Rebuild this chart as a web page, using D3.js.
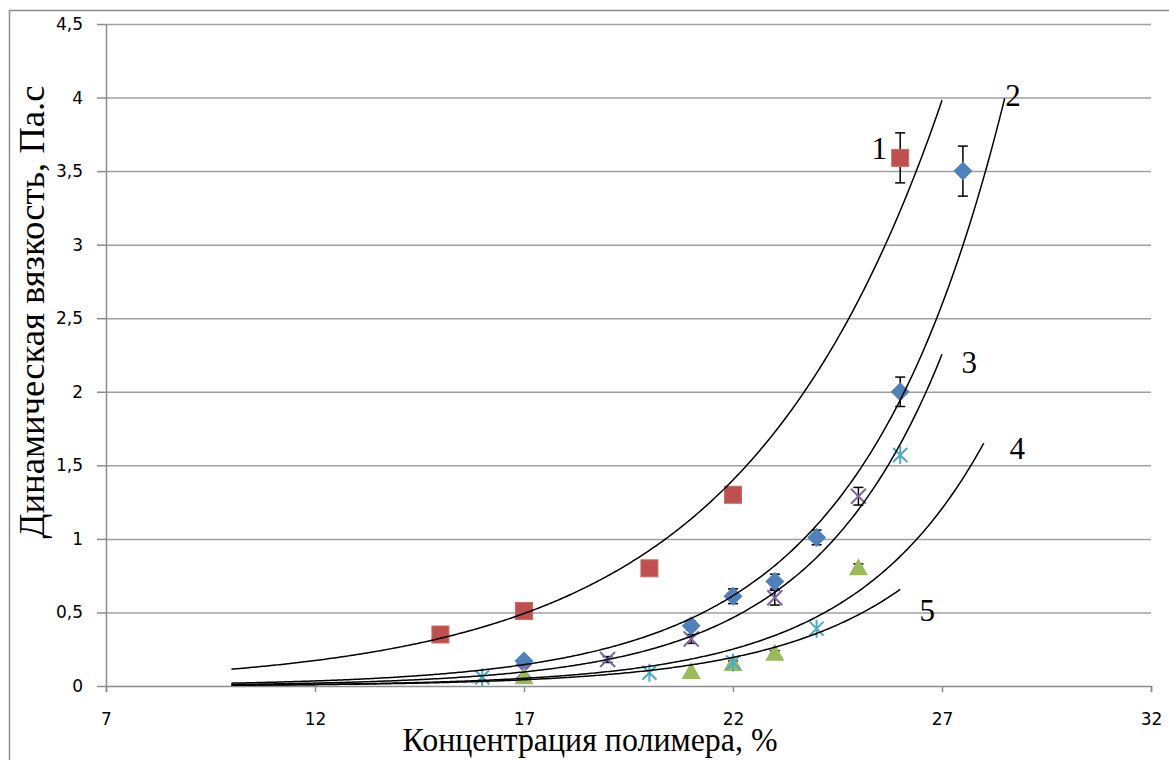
<!DOCTYPE html>
<head>
<meta charset="utf-8">
<script src="https://d3js.org/d3.v7.min.js"></script>
<style>
body{ margin:0; background:#fff; }
.tick text{ font-family: "DejaVu Sans", sans-serif; font-size:17px; fill:#000; }
.tick line{ stroke:#8c8c8c; stroke-width:1.5; }
path.domain{ stroke:#8c8c8c; stroke-width:1.5; }
.grid line{ stroke:#a0a0a0; stroke-width:1.5; }
.grid path{ display:none; }
text.axisTitle{ font-family:"Liberation Serif", "Times New Roman", serif; font-size:35px; }
text.xTitle{ font-size:34px; }
text.curveLabel{ font-family:"Liberation Serif", "Times New Roman", serif; font-size:31px; }
</style>
<title>Динамическая вязкость</title>
</head>
<body>
<script>
const width = 1169, height = 760;
const margin = {top:24, right:18, bottom:74, left:106};

// тики осей
const xTicks = [7, 12, 17, 22, 27, 32];
const yTicks = [0, 0.5, 1, 1.5, 2, 2.5, 3, 3.5, 4, 4.5];

// серия 1 (красные квадраты)
const x1 = [15, 17, 20, 22, 26];
const y1 = [0.35, 0.51, 0.80, 1.30, 3.59];
const e1 = [0, 0, 0, 0.05, 0.17];
// серия 2 (синие ромбы)
const x2 = [17, 21, 22, 23, 24, 26, 27.5];
const y2 = [0.17, 0.41, 0.61, 0.71, 1.01, 2.00, 3.50];
const e2 = [0, 0.03, 0.05, 0.05, 0.05, 0.10, 0.17];
// серия 3 (фиолетовые крестики)
const x3 = [17, 19, 21, 23, 25];
const y3 = [0.10, 0.18, 0.32, 0.60, 1.29];
const e3 = [0, 0.02, 0.03, 0.05, 0.06];
// серия 4 (зелёные треугольники)
const x4 = [17, 21, 22, 23, 25];
const y4 = [0.06, 0.095, 0.15, 0.22, 0.80];
const e4 = [0, 0, 0.02, 0.02, 0.03];
// серия 5 (голубые звёздочки)
const x5 = [16, 20, 22, 24, 26];
const y5 = [0.06, 0.09, 0.16, 0.39, 1.57];
const e5 = [0, 0, 0, 0, 0];

// диапазон экспоненциальных линий тренда
const trendFrom = [10, 10, 10, 10, 10];
const trendTo   = [27, 28.5, 27, 26, 28];

// подписи кривых
const curveNames = ['1', '2', '3', '4', '5'];
const curveLabX  = [25.5, 28.7, 27.65, 28.8, 26.65];
const curveLabY  = [3.58, 3.94, 2.13, 1.54, 0.44];

const series = [
   {x:x1, y:y1, e:e1, marker:'square',   colour:'#C0504D'},
   {x:x2, y:y2, e:e2, marker:'diamond',  colour:'#4F81BD'},
   {x:x3, y:y3, e:e3, marker:'cross',    colour:'#8064A2'},
   {x:x4, y:y4, e:e4, marker:'triangle', colour:'#9BBB59'},
   {x:x5, y:y5, e:e5, marker:'star',     colour:'#4BACC6'}
];

const svg = d3.select('body').append('svg')
   .attr('width', width)
   .attr('height', height);

// рамка
svg.append('rect')
   .attr('x', 9.5).attr('y', 10.5)
   .attr('width', width + 20).attr('height', height + 20)
   .attr('fill', 'none')
   .attr('stroke', '#8c8c8c')
   .attr('stroke-width', 1.5);

const x = d3.scaleLinear().domain([7, 32]).range([margin.left, width - margin.right]);
const y = d3.scaleLinear().domain([0, 4.5]).range([height - margin.bottom, margin.top]);

// сетка
svg.append('g')
   .attr('class', 'grid')
   .attr('transform', `translate(${margin.left},0)`)
   .call(d3.axisLeft(y).tickValues(yTicks.slice(1)).tickSize(-(x(32) - x(7))).tickFormat(''));

const fmt = d => String(d).replace('.', ',');

svg.append('g')
   .attr('class', 'axis xAxis')
   .attr('transform', `translate(0,${y(0)})`)
   .call(d3.axisBottom(x).tickValues(xTicks).tickSize(6).tickSizeOuter(6).tickPadding(21).tickFormat(fmt));

svg.append('g')
   .attr('class', 'axis yAxis')
   .attr('transform', `translate(${margin.left},0)`)
   .call(d3.axisLeft(y).tickValues(yTicks).tickSize(9).tickSizeOuter(0).tickPadding(14).tickFormat(fmt));

// линии ошибок
const errG = svg.append('g');
series.forEach(s => {
   s.x.forEach((xv, i) => {
      if (!s.e[i]) return;
      const cx = x(xv), top = y(s.y[i] + s.e[i]), bot = y(s.y[i] - s.e[i]);
      errG.append('line').attr('x1', cx).attr('x2', cx).attr('y1', top).attr('y2', bot);
      errG.append('line').attr('x1', cx - 5).attr('x2', cx + 5).attr('y1', top).attr('y2', top);
      errG.append('line').attr('x1', cx - 5).attr('x2', cx + 5).attr('y1', bot).attr('y2', bot);
   });
});
errG.selectAll('line').attr('stroke', '#000').attr('stroke-width', 1.5);

// маркеры
function drawMarker(g, type, colour){
   if (type === 'square') {
      g.append('rect').attr('x', -8.5).attr('y', -8.5).attr('width', 17).attr('height', 17)
         .attr('fill', colour).attr('stroke', '#cd6a67').attr('stroke-width', 1);
   } else if (type === 'diamond') {
      g.append('path').attr('d', 'M0,-9.5L9.5,0L0,9.5L-9.5,0Z').attr('fill', colour);
   } else if (type === 'triangle') {
      g.append('path').attr('d', 'M0,-10L9.5,7L-9.5,7Z').attr('fill', colour);
   } else if (type === 'cross') {
      g.append('path').attr('d', 'M-7.5,-7.5L7.5,7.5M-7.5,7.5L7.5,-7.5')
         .attr('stroke', colour).attr('stroke-width', 2).attr('fill', 'none');
   } else {
      g.append('path').attr('d', 'M-7,-7L7,7M-7,7L7,-7M0,-9L0,9')
         .attr('stroke', colour).attr('stroke-width', 2).attr('fill', 'none');
   }
}

series.forEach(s => {
   svg.append('g').selectAll('g')
      .data(s.x.map((xv, i) => ({x:xv, y:s.y[i]})))
      .enter()
      .append('g')
      .attr('transform', d => `translate(${x(d.x)},${y(d.y)})`)
      .each(function(){ drawMarker(d3.select(this), s.marker, s.colour); });
});

// экспоненциальный тренд (МНК по ln y, как в Excel)
function expFit(xs, ys){
   const ls = ys.map(Math.log);
   const mx = d3.mean(xs), ml = d3.mean(ls);
   let sxy = 0, sxx = 0;
   xs.forEach((xv, i) => { sxy += (xv - mx) * (ls[i] - ml); sxx += (xv - mx) * (xv - mx); });
   const b = sxy / sxx;
   const a = Math.exp(ml - b * mx);
   return xv => a * Math.exp(b * xv);
}

const line = d3.line().x(d => x(d[0])).y(d => y(d[1]));

series.forEach((s, k) => {
   const f = expFit(s.x, s.y);
   const pts = d3.range(trendFrom[k], trendTo[k] + 0.001, 0.05).map(v => [v, f(v)]);
   svg.append('path')
      .attr('d', line(pts))
      .attr('fill', 'none')
      .attr('stroke', '#000')
      .attr('stroke-width', 1.5);
});

// подписи кривых
svg.selectAll('text.curveLabel')
   .data(curveNames)
   .enter()
   .append('text')
   .attr('class', 'curveLabel')
   .attr('x', (d, i) => x(curveLabX[i]))
   .attr('y', (d, i) => y(curveLabY[i]))
   .style('text-anchor', 'middle')
   .text(d => d);

// подписи осей
svg.append('text')
   .attr('class', 'axisTitle xTitle')
   .attr('x', 590)
   .attr('y', 751)
   .style('text-anchor', 'middle')
   .attr('textLength', 375)
   .attr('lengthAdjust', 'spacingAndGlyphs')
   .text('Концентрация полимера, %');

svg.append('text')
   .attr('class', 'axisTitle')
   .attr('transform', 'translate(44,312) rotate(-90)')
   .style('text-anchor', 'middle')
   .attr('textLength', 453)
   .attr('lengthAdjust', 'spacingAndGlyphs')
   .text('Динамическая вязкость, Па.с');
</script>
</body>
